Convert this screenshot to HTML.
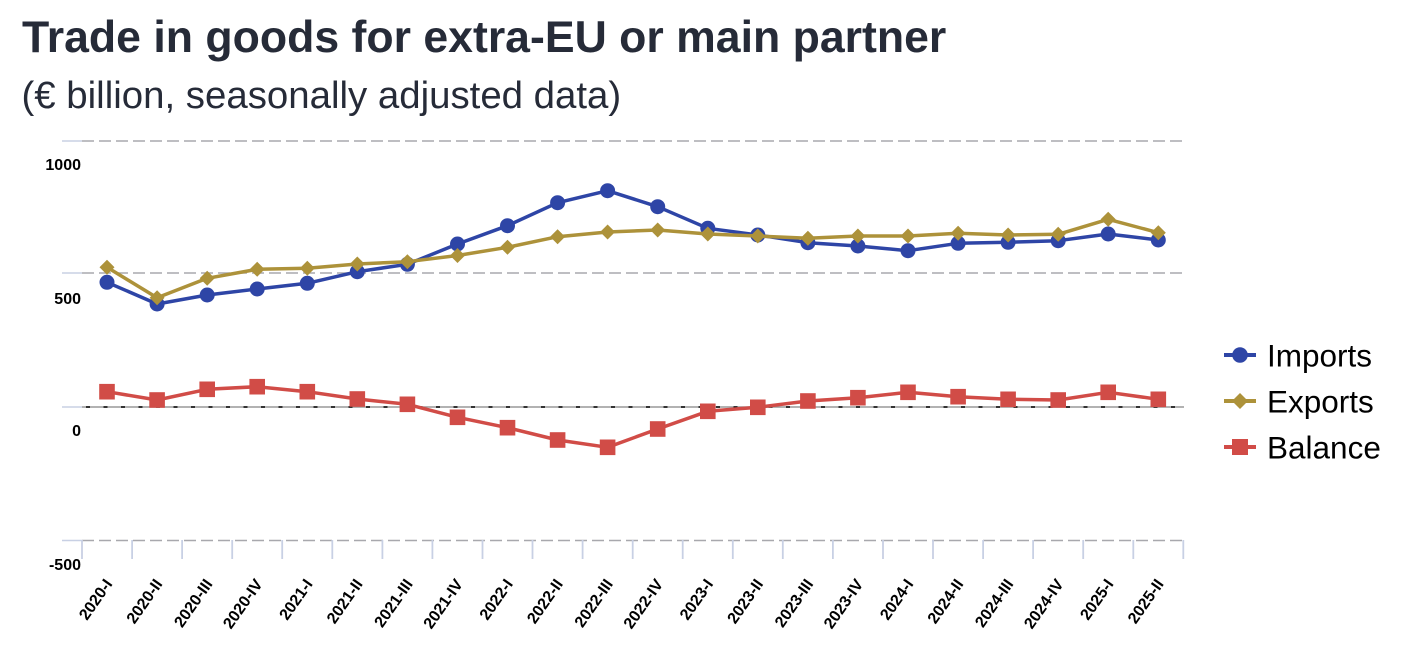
<!DOCTYPE html>
<html>
<head>
<meta charset="utf-8">
<style>
html,body{margin:0;padding:0;background:#fff;}
svg{display:block;}
text{font-family:"Liberation Sans",Arial,sans-serif;}
</style>
</head>
<body>
<svg width="1412" height="672" viewBox="0 0 1412 672" xmlns="http://www.w3.org/2000/svg">
<rect width="1412" height="672" fill="#fff"/>
<text x="22" y="52" font-size="44.6" font-weight="bold" fill="#262B38">Trade in goods for extra-EU or main partner</text>
<text x="21.5" y="108" font-size="38.4" fill="#262B38">(€ billion, seasonally adjusted data)</text>

<!-- gridlines -->
<g stroke-width="1.6">
  <line x1="62" y1="141" x2="82" y2="141" stroke="#C8D0E4"/>
  <line x1="82" y1="141" x2="1184" y2="141" stroke="#A8A8AD" stroke-dasharray="12 5"/>
  <line x1="62" y1="273" x2="82" y2="273" stroke="#C8D0E4"/>
  <line x1="82" y1="273" x2="1184" y2="273" stroke="#A8A8AD" stroke-dasharray="12 5"/>
  <line x1="62" y1="407" x2="82" y2="407" stroke="#C8D0E4"/>
  <line x1="82" y1="407" x2="1184" y2="407" stroke="#999"/>
  <line x1="82" y1="407" x2="1184" y2="407" stroke="#000" stroke-dasharray="4 13.5" stroke-dashoffset="-4"/>
  <line x1="62" y1="540.5" x2="82" y2="540.5" stroke="#C8D0E4"/>
  <line x1="82" y1="540.5" x2="1184" y2="540.5" stroke="#A8A8AD" stroke-dasharray="12 5"/>
</g>
<!-- ticks -->
<g stroke="#C8D0E4" stroke-width="1.8">
<line x1="82" y1="540" x2="82" y2="559"/><line x1="132.1" y1="540" x2="132.1" y2="559"/><line x1="182.1" y1="540" x2="182.1" y2="559"/><line x1="232.2" y1="540" x2="232.2" y2="559"/><line x1="282.2" y1="540" x2="282.2" y2="559"/><line x1="332.3" y1="540" x2="332.3" y2="559"/><line x1="382.4" y1="540" x2="382.4" y2="559"/><line x1="432.4" y1="540" x2="432.4" y2="559"/><line x1="482.5" y1="540" x2="482.5" y2="559"/><line x1="532.5" y1="540" x2="532.5" y2="559"/><line x1="582.6" y1="540" x2="582.6" y2="559"/><line x1="632.7" y1="540" x2="632.7" y2="559"/><line x1="682.7" y1="540" x2="682.7" y2="559"/><line x1="732.8" y1="540" x2="732.8" y2="559"/><line x1="782.8" y1="540" x2="782.8" y2="559"/><line x1="832.9" y1="540" x2="832.9" y2="559"/><line x1="883" y1="540" x2="883" y2="559"/><line x1="933" y1="540" x2="933" y2="559"/><line x1="983.1" y1="540" x2="983.1" y2="559"/><line x1="1033.1" y1="540" x2="1033.1" y2="559"/><line x1="1083.2" y1="540" x2="1083.2" y2="559"/><line x1="1133.3" y1="540" x2="1133.3" y2="559"/><line x1="1183.3" y1="540" x2="1183.3" y2="559"/>
</g>

<!-- y labels -->
<g font-size="16" font-weight="bold" fill="#000" text-anchor="end">
<text x="81" y="170">1000</text>
<text x="81" y="304">500</text>
<text x="81" y="436">0</text>
<text x="81" y="570">-500</text>
</g>

<!-- x labels -->
<g font-size="16" font-weight="bold" fill="#000" text-anchor="end">
<text transform="translate(113,584) rotate(-55)">2020-I</text>
<text transform="translate(163.1,584) rotate(-55)">2020-II</text>
<text transform="translate(213.2,584) rotate(-55)">2020-III</text>
<text transform="translate(263.2,584) rotate(-55)">2020-IV</text>
<text transform="translate(313.3,584) rotate(-55)">2021-I</text>
<text transform="translate(363.3,584) rotate(-55)">2021-II</text>
<text transform="translate(413.4,584) rotate(-55)">2021-III</text>
<text transform="translate(463.5,584) rotate(-55)">2021-IV</text>
<text transform="translate(513.5,584) rotate(-55)">2022-I</text>
<text transform="translate(563.6,584) rotate(-55)">2022-II</text>
<text transform="translate(613.6,584) rotate(-55)">2022-III</text>
<text transform="translate(663.7,584) rotate(-55)">2022-IV</text>
<text transform="translate(713.8,584) rotate(-55)">2023-I</text>
<text transform="translate(763.8,584) rotate(-55)">2023-II</text>
<text transform="translate(813.9,584) rotate(-55)">2023-III</text>
<text transform="translate(863.9,584) rotate(-55)">2023-IV</text>
<text transform="translate(914,584) rotate(-55)">2024-I</text>
<text transform="translate(964.1,584) rotate(-55)">2024-II</text>
<text transform="translate(1014.1,584) rotate(-55)">2024-III</text>
<text transform="translate(1064.2,584) rotate(-55)">2024-IV</text>
<text transform="translate(1114.2,584) rotate(-55)">2025-I</text>
<text transform="translate(1164.3,584) rotate(-55)">2025-II</text>
</g>

<!-- Imports -->
<g fill="#2E45A6">
<polyline fill="none" stroke="#2E45A6" stroke-width="3.5" stroke-linejoin="round" points="107,282.3 157.1,304 207.2,295 257.2,289 307.3,283.3 357.3,271.7 407.4,264.3 457.5,244 507.5,225.7 557.6,202.7 607.6,190.7 657.7,206.7 707.8,228.3 757.8,235 807.9,242.7 857.9,246 908,250.7 958.1,243.3 1008.1,242.3 1058.2,240.7 1108.2,234 1158.3,240"/>
<circle cx="107" cy="282.3" r="7.5"/><circle cx="157.1" cy="304" r="7.5"/><circle cx="207.2" cy="295" r="7.5"/><circle cx="257.2" cy="289" r="7.5"/><circle cx="307.3" cy="283.3" r="7.5"/><circle cx="357.3" cy="271.7" r="7.5"/><circle cx="407.4" cy="264.3" r="7.5"/><circle cx="457.5" cy="244" r="7.5"/><circle cx="507.5" cy="225.7" r="7.5"/><circle cx="557.6" cy="202.7" r="7.5"/><circle cx="607.6" cy="190.7" r="7.5"/><circle cx="657.7" cy="206.7" r="7.5"/><circle cx="707.8" cy="228.3" r="7.5"/><circle cx="757.8" cy="235" r="7.5"/><circle cx="807.9" cy="242.7" r="7.5"/><circle cx="857.9" cy="246" r="7.5"/><circle cx="908" cy="250.7" r="7.5"/><circle cx="958.1" cy="243.3" r="7.5"/><circle cx="1008.1" cy="242.3" r="7.5"/><circle cx="1058.2" cy="240.7" r="7.5"/><circle cx="1108.2" cy="234" r="7.5"/><circle cx="1158.3" cy="240" r="7.5"/>
</g>

<!-- Exports -->
<g fill="#AD923A">
<polyline fill="none" stroke="#AD923A" stroke-width="3.5" stroke-linejoin="round" points="107,267.3 157.1,297.7 207.2,278.3 257.2,269.3 307.3,268.3 357.3,264 407.4,261.7 457.5,255.5 507.5,247.3 557.6,236.7 607.6,232 657.7,230 707.8,234 757.8,236 807.9,238.3 857.9,236 908,236 958.1,233.3 1008.1,235 1058.2,234.3 1108.2,219.3 1158.3,232.7"/>
<path d="M107,259.8l7.5,7.5l-7.5,7.5l-7.5,-7.5z M157.1,290.2l7.5,7.5l-7.5,7.5l-7.5,-7.5z M207.2,270.8l7.5,7.5l-7.5,7.5l-7.5,-7.5z M257.2,261.8l7.5,7.5l-7.5,7.5l-7.5,-7.5z M307.3,260.8l7.5,7.5l-7.5,7.5l-7.5,-7.5z M357.3,256.5l7.5,7.5l-7.5,7.5l-7.5,-7.5z M407.4,254.2l7.5,7.5l-7.5,7.5l-7.5,-7.5z M457.5,248l7.5,7.5l-7.5,7.5l-7.5,-7.5z M507.5,239.8l7.5,7.5l-7.5,7.5l-7.5,-7.5z M557.6,229.2l7.5,7.5l-7.5,7.5l-7.5,-7.5z M607.6,224.5l7.5,7.5l-7.5,7.5l-7.5,-7.5z M657.7,222.5l7.5,7.5l-7.5,7.5l-7.5,-7.5z M707.8,226.5l7.5,7.5l-7.5,7.5l-7.5,-7.5z M757.8,228.5l7.5,7.5l-7.5,7.5l-7.5,-7.5z M807.9,230.8l7.5,7.5l-7.5,7.5l-7.5,-7.5z M857.9,228.5l7.5,7.5l-7.5,7.5l-7.5,-7.5z M908,228.5l7.5,7.5l-7.5,7.5l-7.5,-7.5z M958.1,225.8l7.5,7.5l-7.5,7.5l-7.5,-7.5z M1008.1,227.5l7.5,7.5l-7.5,7.5l-7.5,-7.5z M1058.2,226.8l7.5,7.5l-7.5,7.5l-7.5,-7.5z M1108.2,211.8l7.5,7.5l-7.5,7.5l-7.5,-7.5z M1158.3,225.2l7.5,7.5l-7.5,7.5l-7.5,-7.5z"/>
</g>

<!-- Balance -->
<g fill="#D14C47">
<polyline fill="none" stroke="#D14C47" stroke-width="3.5" stroke-linejoin="round" points="107,391.7 157.1,400 207.2,389.3 257.2,386.7 307.3,391.7 357.3,399 407.4,404.3 457.5,417.3 507.5,427.7 557.6,440 607.6,447.3 657.7,429 707.8,411.3 757.8,407.3 807.9,401 857.9,397.7 908,392.3 958.1,396.7 1008.1,399.3 1058.2,400 1108.2,392.3 1158.3,399.3"/>
<rect x="99.2" y="383.9" width="15.6" height="15.6"/><rect x="149.3" y="392.2" width="15.6" height="15.6"/><rect x="199.4" y="381.5" width="15.6" height="15.6"/><rect x="249.4" y="378.9" width="15.6" height="15.6"/><rect x="299.5" y="383.9" width="15.6" height="15.6"/><rect x="349.5" y="391.2" width="15.6" height="15.6"/><rect x="399.6" y="396.5" width="15.6" height="15.6"/><rect x="449.7" y="409.5" width="15.6" height="15.6"/><rect x="499.7" y="419.9" width="15.6" height="15.6"/><rect x="549.8" y="432.2" width="15.6" height="15.6"/><rect x="599.8" y="439.5" width="15.6" height="15.6"/><rect x="649.9" y="421.2" width="15.6" height="15.6"/><rect x="700" y="403.5" width="15.6" height="15.6"/><rect x="750" y="399.5" width="15.6" height="15.6"/><rect x="800.1" y="393.2" width="15.6" height="15.6"/><rect x="850.1" y="389.9" width="15.6" height="15.6"/><rect x="900.2" y="384.5" width="15.6" height="15.6"/><rect x="950.3" y="388.9" width="15.6" height="15.6"/><rect x="1000.3" y="391.5" width="15.6" height="15.6"/><rect x="1050.4" y="392.2" width="15.6" height="15.6"/><rect x="1100.4" y="384.5" width="15.6" height="15.6"/><rect x="1150.5" y="391.5" width="15.6" height="15.6"/>
</g>

<!-- legend -->
<g>
<line x1="1224" y1="355" x2="1256" y2="355" stroke="#2E45A6" stroke-width="4"/>
<circle cx="1240" cy="355" r="7.8" fill="#2E45A6"/>
<text x="1267" y="366.7" font-size="31.5" fill="#000">Imports</text>
<line x1="1224" y1="401" x2="1256" y2="401" stroke="#AD923A" stroke-width="4"/>
<path d="M1240,393l8,8l-8,8l-8,-8z" fill="#AD923A"/>
<text x="1267" y="412.7" font-size="31.5" fill="#000">Exports</text>
<line x1="1224" y1="447" x2="1256" y2="447" stroke="#D14C47" stroke-width="4"/>
<rect x="1232" y="439" width="16" height="16" fill="#D14C47"/>
<text x="1267" y="458.7" font-size="31.5" fill="#000">Balance</text>
</g>
</svg>
</body>
</html>
